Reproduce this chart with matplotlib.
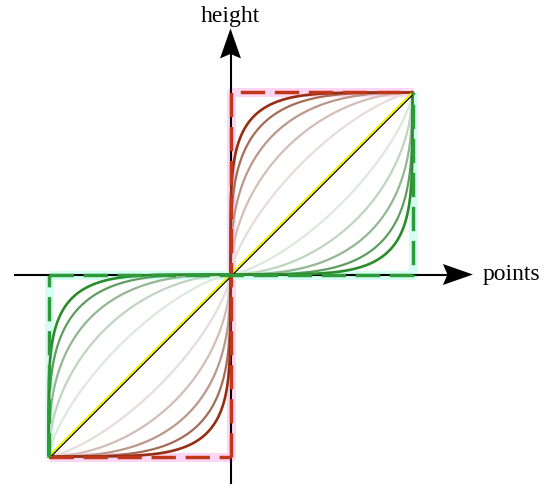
import numpy as np
import matplotlib.pyplot as plt
from matplotlib.patches import Polygon
from matplotlib.transforms import offset_copy

plt.rcParams['font.family'] = ['Liberation Serif', 'DejaVu Serif']

# superellipse exponents of the curve family (darkest first)
exponents = [5.0, 3.6, 2.6, 1.9, 1.4]
red_colors = ['#952e12', '#a46c56', '#bb978b', '#d2beb6', '#e8dcd8']
green_colors = ['#2a8c2a', '#5f9c5f', '#93b693', '#bfd5bf', '#dceadc']
x_label = 'points'
y_label = 'height'

fig = plt.figure(figsize=(5.5, 4.98), dpi=100)
ax = fig.add_axes([0, 0, 1, 1])
unit = 182.0
ox, oy = 230.5, 274.5
ax.set_xlim(-ox / unit, (550 - ox) / unit)
ax.set_ylim(-(498 - oy) / unit, oy / unit)
ax.axis('off')

# glow behind the dashed bounds
glow = dict(lw=6.5, solid_capstyle='butt', zorder=1)
ax.plot([0, 0, 1], [-1, 1, 1], color='#ffd6f4', **glow)
ax.plot([-1, 0, 0], [-1, -1, 0], color='#ffd6f4', **glow)
ax.plot([-1, 1, 1], [0, 0, 1], color='#d4fff2', **glow)
ax.plot([-1, -1], [-1, 0], color='#d4fff2', **glow)

# axes with stealth arrow heads
x_end, y_end = 1.332, 1.352
head_len, head_w, notch = 30 / unit, 21 / unit, 4.5 / unit
ax.plot([-1.185, x_end - head_len + notch], [0, 0], color='black', lw=1.5, zorder=2)
ax.plot([0, 0], [-1.148, y_end - head_len + notch], color='black', lw=1.5, zorder=2)
ax.add_patch(Polygon([(x_end, 0), (x_end - head_len, head_w / 2),
                      (x_end - head_len + notch, 0), (x_end - head_len, -head_w / 2)],
                     closed=True, color='black', lw=0, zorder=2))
ax.add_patch(Polygon([(0, y_end), (head_w / 2, y_end - head_len),
                      (0, y_end - head_len + notch), (-head_w / 2, y_end - head_len)],
                     closed=True, color='black', lw=0, zorder=2))
ax.text(1.388, 0.0, x_label, fontsize=17, ha='left', va='center')
ax.text(0.0, 1.385, y_label, fontsize=17, ha='center', va='baseline')

# curve family, lightest drawn first
t = np.linspace(0, np.pi / 2, 400)
for i in range(len(exponents) - 1, -1, -1):
    n = exponents[i]
    u = 1 - np.cos(t) ** (2 / n)
    v = np.sin(t) ** (2 / n)
    lw = 1.9 if i == 0 else 1.6
    # red: above diagonal in Q1, mirrored into Q3
    ax.plot(u, v, color=red_colors[i], lw=lw, zorder=3)
    ax.plot(-u, -v, color=red_colors[i], lw=lw, zorder=3)
    # green: reflection about the diagonal
    ax.plot(v, u, color=green_colors[i], lw=lw, zorder=3)
    ax.plot(-v, -u, color=green_colors[i], lw=lw, zorder=3)

# diagonal
shifted = offset_copy(ax.transData, fig=fig, x=1.0, y=-1.0, units='dots')
ax.plot([-1, 1], [-1, 1], color='black', lw=1.3, transform=shifted, zorder=4)
ax.plot([-1, 1], [-1, 1], color='#f2f20a', lw=1.6, zorder=5)

# dashed bounds
dash = (0, (7, 2.8))
bound = dict(lw=2.5, linestyle=dash, zorder=6)
ax.plot([0, 0, 1], [-1, 1, 1], color='#c0381a', **bound)
ax.plot([-1, 0], [-1, -1], color='#c0381a', **bound)
ax.plot([-1, 1, 1], [0, 0, 1], color='#2e9a3a', **bound)
ax.plot([-1, -1], [-1, 0], color='#2e9a3a', **bound)

fig.savefig('out.png', dpi=100)
